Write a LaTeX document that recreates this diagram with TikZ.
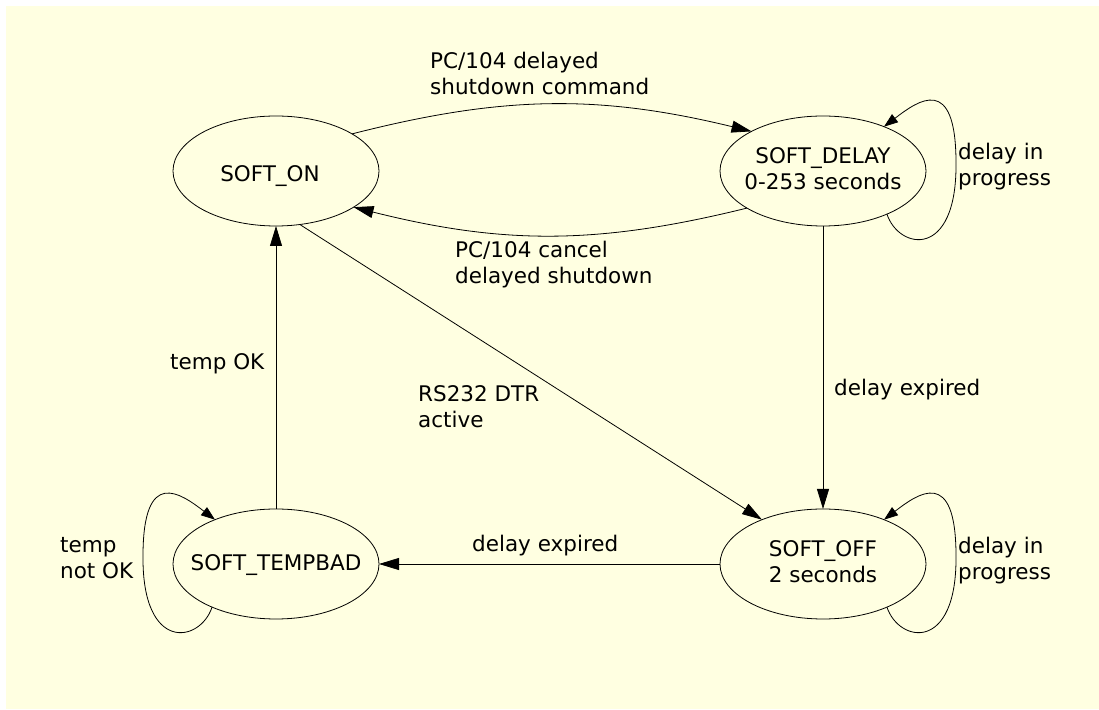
\documentclass[tikz,border=0pt]{standalone}
\usepackage{fontspec}
\setmainfont{DejaVu Sans}
\usetikzlibrary{arrows.meta,shapes.geometric,calc}
\definecolor{bgyellow}{RGB}{255,255,225}
\newcommand\dgfont{\fontsize{21.5}{26}\selectfont}
\begin{document}
\begin{tikzpicture}[x=1pt,y=1pt,
  stnode/.style={draw, ellipse, line width=0.8pt, minimum width=206pt, minimum height=110pt,
    inner xsep=-40pt, inner ysep=0pt, outer sep=0pt, font=\dgfont},
  lbl/.style={font=\dgfont, inner sep=0pt, align=left, anchor=west},
  conn/.style={draw, line width=0.8pt, -{Triangle[length=20pt,width=12pt]}},
  selfloop/.style={draw, line width=0.8pt, -{Triangle[length=14pt,width=10pt]}}]
\useasboundingbox (0,0) rectangle (1099,709);
\fill[bgyellow] (6,0) rectangle (1099,703);

% states
\node[stnode, text height=21.4pt, text depth=0pt] (on) at (276,538) {SOFT\_ON\hspace*{12pt}};
\node[stnode, text height=15pt, text depth=2pt] (tb) at (276,145) {SOFT\_TEMPBAD};
\node[stnode, align=center] (d) at (823,538) {\strut SOFT\_DELAY\\\strut 0-253 seconds};
\node[stnode, align=center] (off) at (823,145) {\strut SOFT\_OFF\\\strut 2 seconds};

% transitions
\draw[conn] (on.26) to[bend left=14] (d.151);
\draw[conn] (d.-154) to[bend left=14] (on.-25);
\draw[conn] (on.-66) -- (off.144);
\draw[conn] (d.south) -- (off.north);
\draw[conn] (off.west) -- (tb.east);
\draw[conn] (tb.north) -- (on.south);

% self loops
\draw[selfloop] (d.-34) .. controls +(12,-36) and +(1,-97) .. ($(d.center)+(133,8)$)
  .. controls +(0,90) and +(34,26) .. (d.36);
\draw[selfloop] (off.-34) .. controls +(12,-36) and +(1,-97) .. ($(off.center)+(133,8)$)
  .. controls +(0,90) and +(34,26) .. (off.36);
\draw[selfloop] (tb.-146) .. controls +(-12,-36) and +(-1,-97) .. ($(tb.center)+(-133,8)$)
  .. controls +(0,90) and +(-34,26) .. (tb.144);

% labels
\node[lbl] (l1) at (430,633) {\strut PC/104 delayed\\\strut shutdown command};
\node[lbl] (l2) at (455,444) {\strut PC/104 cancel\\\strut delayed shutdown};
\node[lbl] (l3) at (170,345) {\strut temp OK};
\node[lbl] (l4) at (418,300) {\strut RS232 DTR\\\strut active};
\node[lbl] (l5) at (834,319) {\strut delay expired};
\node[lbl] (l6) at (472,162.5) {\strut delay expired};
\node[lbl] (l7) at (958,542) {\strut delay in\\\strut progress};
\node[lbl] (l8) at (958,148) {\strut delay in\\\strut progress};
\node[lbl] (l9) at (60,148.5) {\strut temp\\\strut not OK};
\end{tikzpicture}
\end{document}
